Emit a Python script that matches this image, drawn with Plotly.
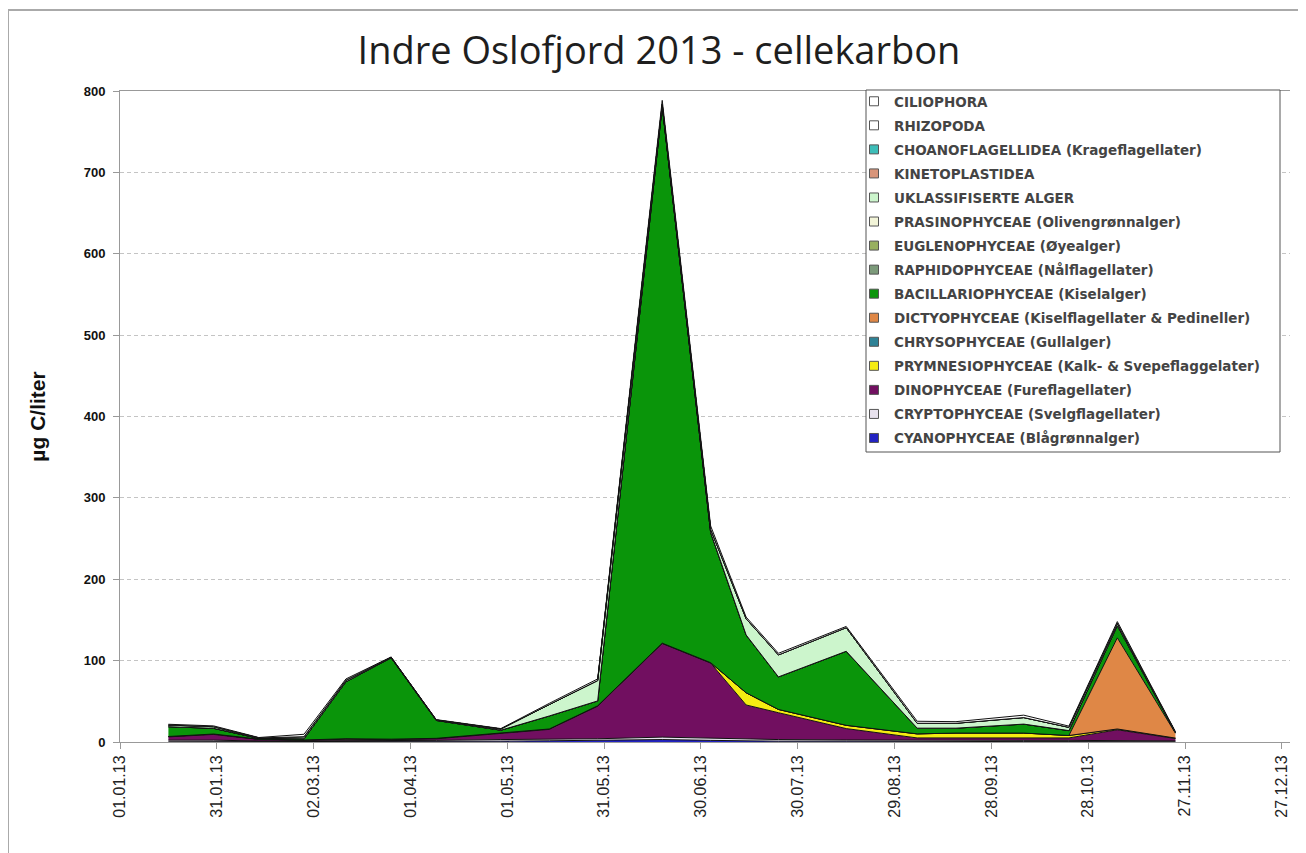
import plotly.graph_objects as go

dates = ["2013-01-16", "2013-01-30", "2013-02-13", "2013-02-27", "2013-03-12",
         "2013-03-26", "2013-04-09", "2013-04-29", "2013-05-14", "2013-05-29",
         "2013-06-18", "2013-07-03", "2013-07-14", "2013-07-24", "2013-08-14",
         "2013-09-05", "2013-09-17", "2013-10-08", "2013-10-22", "2013-11-06",
         "2013-11-24"]

cyanophyceae =      [0.3, 0.3, 0.2, 0.2, 0.5, 0.5, 0.5, 1, 1.5, 2, 3, 2, 1.5, 1, 1, 0.5, 0.5, 0.5, 0.5, 0.5, 0.3]
cryptophyceae =     [2, 2, 1, 1, 1.5, 1, 1.5, 2, 2, 2, 3, 3, 2, 2, 1.5, 1.5, 1.5, 1.5, 1.5, 1.5, 1]
dinophyceae =       [4, 7, 2, 1, 1.5, 1.5, 2, 8, 12, 40, 115, 92, 42, 33, 14, 3, 3, 3, 3, 13, 3]
prymnesiophyceae =  [0.5, 0.5, 0.3, 0.3, 0.5, 0.5, 0.5, 0.5, 0.5, 0.5, 0.5, 0.5, 15, 4, 4, 5, 6, 6, 3, 1, 0.5]
chrysophyceae =     [0, 0, 0, 0, 0, 0, 0, 0, 0, 0, 0, 0, 0, 0, 0, 0, 0, 0, 0, 0, 0]
dictyophyceae =     [0, 0, 0, 0, 0, 0, 0, 0, 0, 0, 0, 0, 0, 0, 0, 0, 0, 0, 0, 112, 6]
bacillariophyceae = [12, 7, 1, 1.5, 70, 100, 22, 3, 16, 6, 660, 160, 71, 40, 91, 7, 6, 11, 6, 15, 1]
raphidophyceae =    [0, 0, 0, 0, 0, 0, 0, 0, 0, 0, 0, 0, 0, 0, 0, 0, 0, 0, 0, 0, 0]
euglenophyceae =    [0, 0, 0, 0, 0, 0, 0, 0, 0, 0, 0, 0, 0, 0, 0, 0, 0, 0, 0, 0, 0]
prasinophyceae =    [0, 0, 0, 0, 0, 0, 0, 0, 0, 0, 0, 0, 0, 0, 0, 0, 0, 0, 0, 0, 0]
uklassifiserte =    [2, 2, 0.5, 2.5, 2, 0.5, 0.5, 1.5, 14, 25, 2, 4, 20, 27, 29, 6, 6, 8, 4, 3, 0]
kinetoplastidea =   [0, 0, 0, 0, 0, 0, 0, 0, 0, 0, 0, 0, 0, 0, 0, 0, 0, 0, 0, 0, 0]
choanoflagellidea = [0, 0, 0, 0, 0, 0, 0, 0, 0, 0, 0, 0, 0, 0, 0, 0, 0, 0, 0, 0, 0]
rhizopoda =         [0, 0, 0, 0, 0, 0, 0, 0, 0, 0, 0, 0, 0, 0, 0, 0, 0, 0, 0, 0, 0]
ciliophora =        [1, 1, 0.5, 3, 1.5, 0.5, 0.5, 0.5, 1.5, 2, 5, 4, 2, 2, 1.5, 2.5, 2, 3, 1.5, 2, 1]

series = [
    ("CYANOPHYCEAE (Blågrønnalger)", cyanophyceae, "#2323C2"),
    ("CRYPTOPHYCEAE (Svelgflagellater)", cryptophyceae, "#E8E2EE"),
    ("DINOPHYCEAE (Fureflagellater)", dinophyceae, "#710F60"),
    ("PRYMNESIOPHYCEAE (Kalk- & Svepeflaggelater)", prymnesiophyceae, "#F5EC12"),
    ("CHRYSOPHYCEAE (Gullalger)", chrysophyceae, "#2E8296"),
    ("DICTYOPHYCEAE (Kiselflagellater & Pedineller)", dictyophyceae, "#DF8746"),
    ("BACILLARIOPHYCEAE (Kiselalger)", bacillariophyceae, "#0A950A"),
    ("RAPHIDOPHYCEAE (Nålflagellater)", raphidophyceae, "#7C9A7A"),
    ("EUGLENOPHYCEAE (Øyealger)", euglenophyceae, "#98B060"),
    ("PRASINOPHYCEAE (Olivengrønnalger)", prasinophyceae, "#F2F4D8"),
    ("UKLASSIFISERTE ALGER", uklassifiserte, "#CCF5CC"),
    ("KINETOPLASTIDEA", kinetoplastidea, "#D8957A"),
    ("CHOANOFLAGELLIDEA (Krageflagellater)", choanoflagellidea, "#3DBDB8"),
    ("RHIZOPODA", rhizopoda, "#FFFFFF"),
    ("CILIOPHORA", ciliophora, "#FFFFFF"),
]

fig = go.Figure()
# stacked areas (first series at the bottom)
for name, vals, col in series:
    fig.add_trace(go.Scatter(
        x=dates, y=vals, name=name, mode="lines",
        stackgroup="one", fillcolor=col,
        line=dict(color="#111111", width=1),
        showlegend=False,
    ))
# legend entries, top series first (as in the reference legend)
for i, (name, vals, col) in enumerate(reversed(series)):
    fig.add_trace(go.Scatter(
        x=[None], y=[None], name=name, mode="markers",
        marker=dict(symbol="square", size=9, color=col,
                    line=dict(color="#555555", width=1)),
        legendgroup="g%d" % i, showlegend=True,
    ))

W, H = 1306, 853
OFF = 8  # page body margin of the browser
L, R, T, B = 112, 24, 83, 119
pw, ph = W - L - R, H - T - B


def sx(x):  # screen x -> paper
    return (x - OFF - L) / pw


def sy(y):  # screen y -> paper
    return (H - B - (y - OFF)) / ph


fig.update_layout(
    width=W, height=H,
    margin=dict(l=L, r=R, t=T, b=B),
    paper_bgcolor="white", plot_bgcolor="white",
    title=dict(text="Indre Oslofjord 2013 - cellekarbon", x=651 / W, xanchor="center",
               y=1 - 43 / H, yanchor="middle",
               font=dict(family="Open Sans", size=38, color="#1e1e1e")),
    showlegend=True,
    legend=dict(x=sx(854), y=sy(86), xanchor="left", yanchor="top",
                bgcolor="rgba(0,0,0,0)", borderwidth=0,
                traceorder="grouped", tracegroupgap=3.5,
                font=dict(family="DejaVu Sans", size=13.5, color="#444444", weight="bold"),
                itemwidth=30),
    xaxis=dict(type="date", range=["2013-01-01", "2013-12-29 12:00"],
               tick0="2013-01-01", dtick=30 * 86400000, tickformat="%d.%m.%y",
               tickangle=-90, ticks="outside", ticklen=6, tickcolor="#999999",
               showgrid=False, showline=True, linecolor="#999999", linewidth=1,
               mirror=True, zeroline=False,
               tickfont=dict(family="Liberation Sans", size=16, color="#222222")),
    yaxis=dict(range=[0, 800], dtick=100, ticks="outside", ticklen=6,
               tickcolor="#999999", showline=True, linecolor="#999999",
               showgrid=True, gridcolor="#C4C4C4", griddash="4px,3px", gridwidth=1,
               zeroline=False, ticklabelstandoff=5,
               tickfont=dict(family="Liberation Sans", size=13, color="#111111", weight="bold"),
               title=dict(text="µg C/liter", standoff=32,
                          font=dict(family="Liberation Sans", size=21, color="#111111", weight="bold"))),
    shapes=[
        dict(type="rect", xref="paper", yref="paper",
             x0=sx(8), x1=sx(1300), y0=sy(880), y1=sy(10),
             line=dict(color="#AAAAAA", width=2), fillcolor="rgba(0,0,0,0)", layer="below"),
        dict(type="rect", xref="paper", yref="paper",
             x0=sx(866), x1=sx(1280), y0=sy(452), y1=sy(90),
             line=dict(color="#555555", width=1), fillcolor="white", layer="above"),
    ],
)

fig.write_html("out.html")
